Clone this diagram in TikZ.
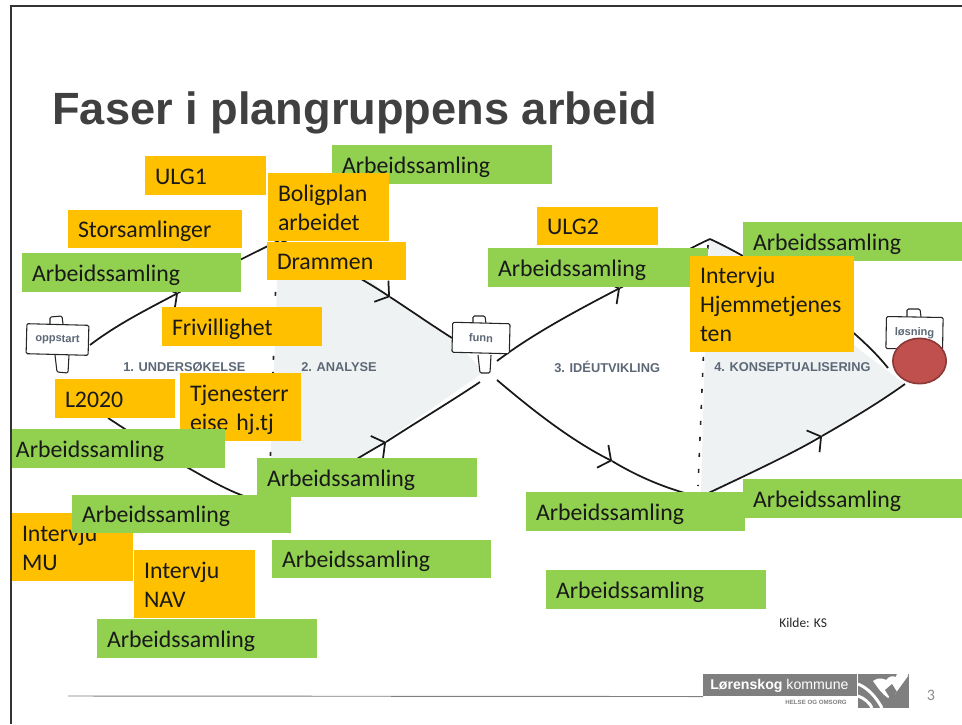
\documentclass[tikz,border=0pt]{standalone}
\usepackage{fontspec}
\setmainfont{Carlito}
\newfontfamily\arial{Liberation Sans}
\usetikzlibrary{arrows.meta,shapes.geometric}
\definecolor{orangebx}{HTML}{FFC000}
\definecolor{greenbx}{HTML}{92D050}
\definecolor{shadecol}{HTML}{EFF2F3}
\definecolor{phase}{HTML}{5C6876}
\definecolor{logogrey}{HTML}{7F7F7F}
\definecolor{titlegrey}{HTML}{404040}
\definecolor{redfill}{HTML}{C0504D}
\definecolor{redline}{HTML}{8C3836}
\tikzset{
  bxbase/.style={anchor=north west,inner xsep=7.5pt,inner ysep=0pt,outer sep=0pt,align=left,
    font=\fontsize{17.85}{21.7}\selectfont,text=black!90},
  orangebox/.style={bxbase,fill=orangebx},
  greenbox/.style={bxbase,fill=greenbx},
  curve/.style={line width=1.3pt,black!90},
  arrowed/.style={curve,-{Straight Barb[length=7pt,width=19pt,line width=1.3pt]}},
  phaselabel/.style={font=\arial\bfseries\fontsize{9.6}{11}\selectfont,text=phase,inner sep=0pt,anchor=west},
  signboard/.style={draw=black!85,fill=white,line width=.8pt,rounded corners=1pt},
  signtext/.style={font=\arial\bfseries\fontsize{8.3}{10}\selectfont,text=phase,inner sep=0pt},
  divider/.style={line width=1.2pt,black!85,dash pattern=on 3pt off 9pt}
}
\newcommand{\bxtxt}[1]{\rule[-4pt]{0pt}{20.8pt}#1\rule[-4pt]{0pt}{0pt}}
\newcommand{\bx}[7]{\node[#1,minimum height=#6*.75pt,text width=#5*.75pt-15pt] (#2) at (#3,#4) {\bxtxt{#7}};}
\begin{document}
\begin{tikzpicture}[x=.75pt,y=-.75pt]
\useasboundingbox[fill=white] (0,0) rectangle (962,724);
% page edge
\coordinate (pageTL) at (11,6);
\coordinate (pageTR) at (962,6);
\coordinate (pageBL) at (11,724);
\draw[line width=.8pt,black!80] (pageBL) -- (pageTL) -- (pageTR);
% title
\node[anchor=base west,inner sep=0pt,font=\arial\bfseries\fontsize{33.9}{40}\selectfont,text=titlegrey] (title) at (52,124) {Faser i plangruppens arbeid};
% shaded phases
\fill[shadecol] (278,262) -- (352,262) -- (388,296) -- (452,338) -- (484,372) -- (386,440) -- (340,470) -- (270,470) -- cycle;
\fill[shadecol] (708,241) -- (712,239) -- (750,258) -- (860,350) -- (905,384) -- (822,436) -- (715,492) -- (701,492) -- cycle;
% signs
\coordinate (oppIn) at (90,345);
\coordinate (funnInT) at (452,338);
\coordinate (funnInB) at (480,382);
\coordinate (funnOutT) at (497,361);
\coordinate (funnOutB) at (497,380);
\coordinate (losInT) at (888,368);
\coordinate (losInB) at (905,384);
\coordinate (oppOutB) at (108,418);
% curves top left
\coordinate (a1) at (178,293);
\coordinate (p1) at (280,240);
\coordinate (a2) at (390,297);
\coordinate (a3) at (192,470);
\coordinate (v1) at (268,503);
\coordinate (a4) at (386,442);
\coordinate (a5) at (620,288);
\coordinate (p2) at (710,239);
\coordinate (a6) at (612,461);
\coordinate (v2) at (700,497);
\coordinate (a7) at (822,436);
\draw[arrowed] (oppIn) .. controls (115,326) and (140,313) .. (a1);
\draw[curve] (a1) .. controls (210,274) and (250,255) .. (p1);
\draw[arrowed] (p1) .. controls (320,255) and (360,277) .. (a2);
\draw[curve] (a2) .. controls (410,310) and (430,324) .. (funnInT);
\draw[curve] (oppOutB) .. controls (130,432) and (155,450) .. (a3);
\draw[curve] (a3) .. controls (220,486) and (240,497) .. (v1);
\draw[arrowed] (v1) .. controls (310,490) and (350,462) .. (a4);
\draw[curve] (a4) .. controls (420,420) and (450,402) .. (funnInB);
\draw[arrowed] (funnOutT) .. controls (530,336) and (570,314) .. (a5);
\draw[curve] (a5) .. controls (650,272) and (685,250) .. (p2);
\draw[curve] (p2) .. controls (760,262) and (850,320) .. (losInT);
\draw[arrowed] (funnOutB) .. controls (530,408) and (570,440) .. (a6);
\draw[curve] (a6) .. controls (640,478) and (670,490) .. (v2);
\draw[arrowed] (v2) .. controls (740,478) and (790,455) .. (a7);
\draw[curve] (a7) .. controls (850,420) and (880,402) .. (losInB);
% dividers
\coordinate (d1a) at (277,244);
\coordinate (d1b) at (270,470);
\coordinate (d2a) at (708,245);
\coordinate (d2b) at (698,486);
\draw[divider] (d1a) -- (d1b);
\draw[divider] (d2a) -- (d2b);
% sign: oppstart
\draw[signboard,fill=white] (50,324) -- (50,317) -- (62,316) -- (63,324);
\draw[signboard] (55,355) -- (57,372) -- (68,373) -- (69,355);
\node[signboard,signtext,minimum width=46.5pt,minimum height=22.5pt,rotate=-1.5] (oppstart) at (57.5,339.5) {oppstart};
% sign: funn
\draw[signboard] (473,324) -- (473,316) -- (485,316) -- (486,324);
\draw[signboard] (478,355) -- (480,373) -- (490,373) -- (491,355);
\node[signboard,signtext,minimum width=43pt,minimum height=22.5pt,rotate=-1.5] (funn) at (481,338) {funn};
% sign: losning
\draw[signboard] (907,317) -- (907,309) -- (920,309) -- (921,317);
\node[signboard,signtext,minimum width=42.5pt,minimum height=24pt,rotate=-1] (losning) at (914.5,333) {løsning};
\node[ellipse,draw=redline,fill=redfill,line width=1.2pt,minimum width=40pt,minimum height=34pt,inner sep=0pt] (redcirc) at (919.5,361) {};
% phase labels
\node[phaselabel] (ph1) at (123,367) {1. UNDERSØKELSE};
\node[phaselabel] (ph2) at (301,367) {2. ANALYSE};
\node[phaselabel] (ph3) at (554,367) {3. IDÉUTVIKLING};
\node[phaselabel] (ph4) at (714,367) {4. KONSEPTUALISERING};
% boxes
\bx{orangebox}{ulg1}{145}{156}{121}{39}{ULG1}
\bx{greenbox}{g1}{332}{145}{220}{39}{Arbeidssamling}
\bx{orangebox}{bolig}{268}{173}{121}{68}{Boligplan\\arbeidet}
\bx{orangebox}{drammen}{267}{242}{139}{38}{Drammen}
\bx{orangebox}{stor}{68}{210}{174}{38}{Storsamlinger}
\bx{greenbox}{g2}{22}{253}{219}{39}{Arbeidssamling}
\bx{orangebox}{friv}{162}{307}{160}{39}{Frivillighet}
\bx{orangebox}{l2020}{55}{379}{120}{39}{L2020}
\bx{orangebox}{tjen}{180}{373}{121}{68}{Tjenesterr\\eise hj.tj}
\node[bxbase,fill=greenbx,inner xsep=3pt,minimum height=39*.75pt,text width=205*.75pt] (g3) at (12,429) {\bxtxt{Arbeidssamling}};
\bx{greenbox}{g4}{257}{458}{220}{39}{Arbeidssamling}
\bx{orangebox}{mu}{12}{513}{121}{68}{Intervju\\MU}
\bx{greenbox}{g5}{72}{495}{219}{38}{Arbeidssamling}
\bx{orangebox}{nav}{134}{550}{121}{68}{Intervju\\NAV}
\bx{greenbox}{g6}{272}{540}{219}{38}{Arbeidssamling}
\bx{greenbox}{g7}{97}{619}{220}{39}{Arbeidssamling}
\bx{orangebox}{ulg2}{537}{207}{121}{38}{ULG2}
\bx{greenbox}{g8}{488}{248}{220}{39}{Arbeidssamling}
\bx{greenbox}{g9}{743}{222}{219}{39}{Arbeidssamling}
\bx{orangebox}{hjem}{690}{256}{164}{96}{Intervju\\Hjemmetjenes\\ten}
\bx{greenbox}{g10}{526}{492}{219}{39}{Arbeidssamling}
\bx{greenbox}{g11}{743}{479}{219}{39}{Arbeidssamling}
\bx{greenbox}{g12}{546}{570}{220}{39}{Arbeidssamling}
% source
\node[anchor=west,inner sep=0pt,font=\fontsize{10.1}{11}\selectfont,text=black!85] (kilde) at (779,623) {Kilde: KS};
% footer
\coordinate (footL) at (68,696);
\node[anchor=north west,fill=logogrey,inner sep=0pt,minimum width=115.5pt,minimum height=16.5pt] (logobar) at (703,674) {};
\draw[line width=.7pt,logogrey] (footL) -- (logobar.south west);
\node[anchor=west,inner sep=0pt,text=white,font=\arial\fontsize{10.6}{12}\selectfont] (logotxt) at (710,686) {\textbf{Lørenskog} kommune};
\node[anchor=east,inner sep=0pt,text=logogrey,font=\arial\bfseries\fontsize{4.6}{6}\selectfont] (logosub) at (847,702) {HELSE OG OMSORG};
\node[anchor=north west,fill=logogrey,inner sep=0pt,minimum width=38pt,minimum height=25.5pt] (logoicon) at (858,674) {};
\fill[white] (897,674) -- (908,674) -- (908,676) -- (895,694) -- (890,690) -- cycle;
\fill[white] (873,681) .. controls (880,676) and (886,680) .. (886,680) .. controls (892,672) and (902,678) .. (898,686) .. controls (895,692) and (889,697) .. (888,698) .. controls (882,694) and (878,688) .. (873,681) -- cycle;
\fill[logogrey] (885,690) -- (892,684) -- (897,692) -- (890,698) -- cycle;
\draw[white,line width=2.2pt] (858,684) .. controls (868,688) and (876,697) .. (882,708);
\draw[white,line width=2.2pt] (858,696) .. controls (864,698) and (870,703) .. (872,708);
\node[anchor=center,inner sep=0pt,text=black!45,font=\fontsize{12}{14}\selectfont] (pagenum) at (931,695) {3};
\end{tikzpicture}
\end{document}
